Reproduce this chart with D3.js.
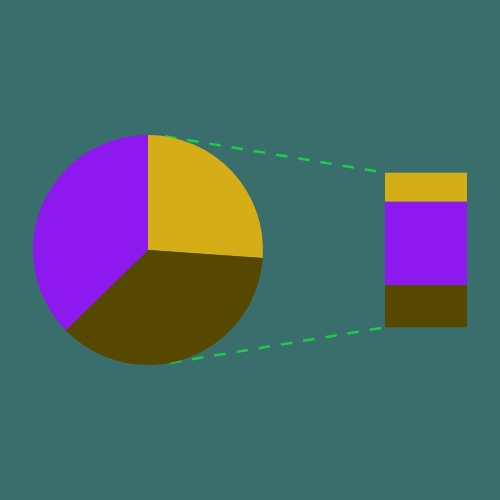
<!DOCTYPE html>
<html>
<head>
<meta charset="utf-8">
<script src="https://cdn.jsdelivr.net/npm/d3@7"></script>
<style>
html,body{margin:0;padding:0;background:#396e6d;}
svg{display:block;}
</style>
</head>
<body>
<svg id="chart" width="500" height="500"></svg>
<script>
// Pie slices (clockwise from 12 o'clock)
const pieCategories = ["A", "B", "C"];
const pieValues = [26.1, 36.6, 37.3];
const pieColors = ["#d5ae17", "#574800", "#8e19ee"];

// Breakdown bar (stacked, top to bottom)
const barCategories = ["a", "b", "c"];
const barValues = [18.8, 53.9, 27.3];
const barColors = ["#d5ae17", "#8e19ee", "#574800"];

// Connector anchor angles on the pie edge (degrees clockwise from top)
const connectorAngles = [8.5, 169];

const svg = d3.select("#chart");
const W = 500, H = 500;
svg.append("rect").attr("width", W).attr("height", H).attr("fill", "#396e6d");

const cx = 148, cy = 250, R = 115;
const barX = 385, barW = 82, barTop = 172.7, barBottom = 327.3;

const total = d3.sum(barValues);
const y = d3.scaleLinear().domain([0, total]).range([barTop, barBottom]);
const angle = d3.scaleLinear().domain([0, 360]).range([0, 2 * Math.PI]);

// connector lines
const barEnds = [y(0), y(total)];
svg.append("g").selectAll("line").data(connectorAngles).join("line")
  .attr("x1", d => cx + R * Math.sin(angle(d)))
  .attr("y1", d => cy - R * Math.cos(angle(d)))
  .attr("x2", barX)
  .attr("y2", (d, i) => barEnds[i])
  .attr("stroke", "#1fcc47")
  .attr("stroke-width", 2.5)
  .attr("stroke-dasharray", "11.5,11");

// pie
const pie = d3.pie().sort(null).startAngle(0).endAngle(2 * Math.PI);
const arc = d3.arc().innerRadius(0).outerRadius(R);
svg.append("g").attr("transform", `translate(${cx},${cy})`)
  .selectAll("path").data(pie(pieValues)).join("path")
  .attr("d", arc)
  .attr("fill", (d, i) => pieColors[i]);

// stacked bar
const cum = d3.cumsum(barValues);
svg.append("g").selectAll("rect").data(barValues).join("rect")
  .attr("x", barX)
  .attr("width", barW)
  .attr("y", (d, i) => y(cum[i] - d))
  .attr("height", d => y(d) - y(0))
  .attr("fill", (d, i) => barColors[i]);
</script>
</body>
</html>
